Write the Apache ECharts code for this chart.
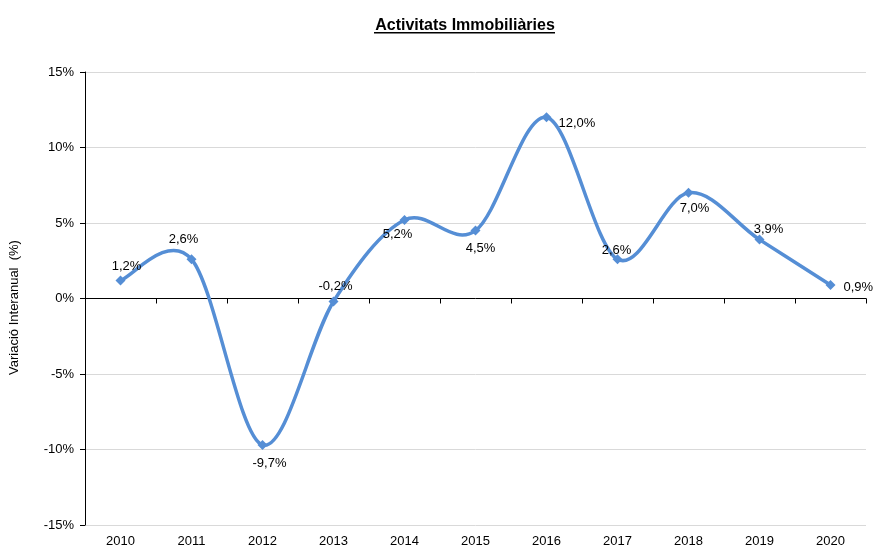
<!DOCTYPE html>
<html>
<head>
<meta charset="utf-8">
<script src="https://cdn.jsdelivr.net/npm/echarts@6/dist/echarts.min.js"></script>
<style>
html, body { margin: 0; padding: 0; background: #fff; }
#chartmain { width: 875px; height: 549px; }
</style>
</head>
<body>
<div id="chartmain"></div>
<script>
var years = ['2010', '2011', '2012', '2013', '2014', '2015', '2016', '2017', '2018', '2019', '2020'];
var variacio = [1.2, 2.6, -9.7, -0.2, 5.2, 4.5, 12.0, 2.6, 7.0, 3.9, 0.9];
var yTicks = [-15, -10, -5, 0, 5, 10, 15];

// where each label sits relative to its point
var labelPos = [
    { position: 'top', offset: [6, 3] },
    { position: 'top', offset: [-8, -3] },
    { position: 'bottom', offset: [7, 2] },
    { position: 'top', offset: [2, 1] },
    { position: 'bottom', offset: [-7, -2] },
    { position: 'bottom', offset: [5, 1] },
    { position: 'right', offset: [2, 6] },
    { position: 'top', offset: [-1, 8] },
    { position: 'bottom', offset: [6, -1] },
    { position: 'top', offset: [9, 6] },
    { position: 'right', offset: [3, 3] }
];

function pct(v) {
    return v.toFixed(1).replace('.', ',') + '%';
}

var seriesData = [];
for (var i = 0; i < variacio.length; i++) {
    seriesData.push({
        value: variacio[i],
        label: labelPos[i]
    });
}

// Excel style smoothed line: one bezier segment per pair of points,
// control points from the neighbours (catmull-rom, 1/6)
function renderSegment(params, api) {
    var i = params.dataIndex;
    var n = variacio.length;
    if (i >= n - 1) return null;
    var p0 = api.coord([Math.max(i - 1, 0), variacio[Math.max(i - 1, 0)]]);
    var p1 = api.coord([i, variacio[i]]);
    var p2 = api.coord([i + 1, variacio[i + 1]]);
    var p3 = api.coord([Math.min(i + 2, n - 1), variacio[Math.min(i + 2, n - 1)]]);
    return {
        type: 'bezierCurve',
        shape: {
            x1: p1[0], y1: p1[1],
            x2: p2[0], y2: p2[1],
            cpx1: p1[0] + (p2[0] - p0[0]) / 6,
            cpy1: p1[1] + (p2[1] - p0[1]) / 6,
            cpx2: p2[0] - (p3[0] - p1[0]) / 6,
            cpy2: p2[1] - (p3[1] - p1[1]) / 6
        },
        style: {
            fill: null,
            stroke: '#558ED5',
            lineWidth: 3.5,
            lineCap: 'round'
        }
    };
}

var option = {
    animation: false,
    textStyle: { fontFamily: 'Liberation Sans, Arial, sans-serif' },
    title: {
        text: 'Activitats Immobiliàries',
        left: 460,
        textAlign: 'center',
        top: 13,
        textStyle: {
            fontFamily: 'Liberation Sans, Arial, sans-serif',
            fontSize: 16,
            fontWeight: 'bold',
            color: '#000'
        }
    },
    graphic: [
        {
            type: 'rect',
            shape: { x: 374, y: 32, width: 181, height: 1.5 },
            style: { fill: '#000' }
        }
    ],
    grid: {
        left: 84,
        right: 9,
        top: 72,
        bottom: 24
    },
    xAxis: [
        {
            type: 'category',
            data: years,
            boundaryGap: true,
            axisLine: { onZero: true, lineStyle: { color: '#000', width: 1 } },
            axisTick: { show: true, length: 5, lineStyle: { color: '#000' } },
            axisLabel: { show: false },
            splitLine: { show: false }
        },
        {
            type: 'category',
            data: years,
            position: 'bottom',
            boundaryGap: true,
            axisLine: { show: false, onZero: false },
            axisTick: { show: false },
            axisLabel: { color: '#000', fontSize: 13, margin: 10 },
            splitLine: { show: false }
        }
    ],
    yAxis: {
        type: 'value',
        min: yTicks[0],
        max: yTicks[yTicks.length - 1],
        interval: 5,
        name: 'Variació Interanual  (%)',
        nameLocation: 'middle',
        nameGap: 64,
        nameTextStyle: { color: '#000', fontSize: 13, padding: [0, 18, 0, 0] },
        axisLine: { show: true, lineStyle: { color: '#000', width: 1 } },
        axisTick: { show: true, length: 5, lineStyle: { color: '#000' } },
        axisLabel: {
            color: '#000',
            fontSize: 13,
            margin: 11,
            formatter: function (v) { return v + '%'; }
        },
        splitLine: { lineStyle: { color: '#D9D9D9', width: 1 } }
    },
    series: [
        {
            name: 'curve',
            type: 'custom',
            xAxisIndex: 0,
            renderItem: renderSegment,
            data: variacio,
            z: 2,
            silent: true
        },
        {
            name: 'Variació',
            type: 'line',
            xAxisIndex: 0,
            symbol: 'diamond',
            symbolSize: 10,
            data: seriesData,
            z: 3,
            lineStyle: { opacity: 0 },
            itemStyle: { color: '#558ED5' },
            label: {
                show: true,
                color: '#000',
                fontSize: 13,
                formatter: function (p) { return pct(p.value); }
            }
        }
    ]
};

//初始化echarts实例
var myChart = echarts.init(document.getElementById('chartmain'));
myChart.setOption(option);
</script>
</body>
</html>
